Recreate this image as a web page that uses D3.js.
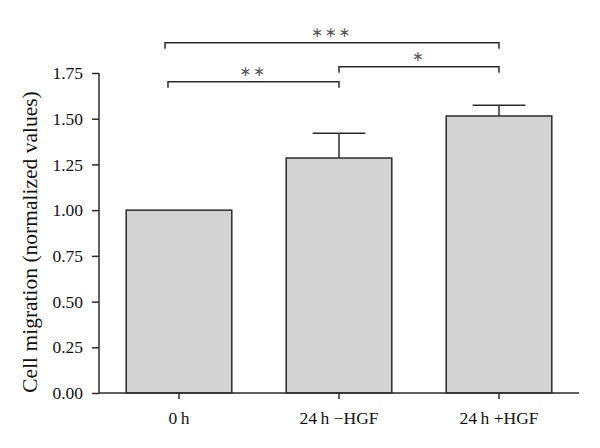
<!DOCTYPE html>
<html><head><meta charset="utf-8">
<script src="https://cdn.jsdelivr.net/npm/d3@7"></script>
<style>body{margin:0;background:#fff}</style>
</head><body>
<svg id="c" width="600" height="448"></svg>
<script>
const categories = ["0\u2009h", "24\u2009h \u2212HGF", "24\u2009h +HGF"];
const values = [1.0, 1.285, 1.515];
const errors = [0.0, 0.135, 0.058];
const yTicks = [0, 0.25, 0.5, 0.75, 1.0, 1.25, 1.5, 1.75];
const brackets = [
  {from: 0, to: 2, level: 1.915, label: "\u2217\u2217\u2217"},
  {from: 1, to: 2, level: 1.784, label: "\u2217"},
  {from: 0, to: 1, level: 1.702, label: "\u2217\u2217"}
];
const yLabel = "Cell migration (normalized values)";

const svg = d3.select("#c");
const font = "'Liberation Serif','DejaVu Serif',serif";
const mLeft = 99, mRight = 579, mTop = 73, mBottom = 393;

const x = d3.scaleBand().domain(categories).range([mLeft, mRight]).paddingInner(0.34).paddingOuter(0.17);
const y = d3.scaleLinear().domain([0, 1.75]).range([mBottom, mTop]);

// bars
svg.selectAll("rect.bar").data(values).enter().append("rect")
  .attr("x", (d,i) => x(categories[i]))
  .attr("y", d => y(d))
  .attr("width", x.bandwidth())
  .attr("height", d => mBottom - y(d))
  .attr("fill", "#d3d3d3").attr("stroke", "#2b2b2b").attr("stroke-width", 1.5);

// error bars
values.forEach((v, i) => {
  if (errors[i] <= 0) return;
  const cx = x(categories[i]) + x.bandwidth()/2;
  const hw = x.bandwidth()/4;
  svg.append("line").attr("x1", cx).attr("x2", cx).attr("y1", y(v)).attr("y2", y(v+errors[i]))
    .attr("stroke", "#2b2b2b").attr("stroke-width", 1.5);
  svg.append("line").attr("x1", cx-hw).attr("x2", cx+hw).attr("y1", y(v+errors[i])).attr("y2", y(v+errors[i]))
    .attr("stroke", "#2b2b2b").attr("stroke-width", 1.5);
});

// y axis
const ya = svg.append("g").attr("transform", `translate(${mLeft},0)`)
  .call(d3.axisLeft(y).tickValues(yTicks).tickFormat(d3.format(".2f")).tickSize(7).tickPadding(9));
ya.select(".domain").attr("d", `M-0,${mTop}H0V${mBottom}`);
// x axis
const xa = svg.append("g").attr("transform", `translate(0,${mBottom})`)
  .call(d3.axisBottom(x).tickSize(6).tickPadding(8));
xa.select(".domain").attr("d", `M${mLeft},0H${mRight}`);
[ya, xa].forEach(g => {
  g.selectAll(".domain, .tick line").attr("stroke", "#2b2b2b").attr("stroke-width", 1.5);
  g.selectAll("text").attr("font-family", font).attr("font-size", 17.5).attr("fill", "#111");
});
xa.selectAll("text").attr("dy", "0.95em");

// y label
svg.append("text").attr("transform", `translate(37,242) rotate(-90)`)
  .attr("text-anchor", "middle").attr("font-family", font).attr("font-size", 21.5).attr("fill", "#111")
  .text(yLabel);

// brackets
brackets.forEach(b => {
  const x1 = x(categories[b.from]) + x.bandwidth()/2 - (b.from === 0 ? 14 : 0);
  const x2 = x(categories[b.to]) + x.bandwidth()/2;
  const yy = y(b.level);
  const xs = b.from === 0 && b.to === 1 ? x1 + 3 : x1;
  svg.append("path").attr("d", `M${xs},${yy+6}V${yy}H${x2}V${yy+6}`)
    .attr("fill", "none").attr("stroke", "#2b2b2b").attr("stroke-width", 1.5);
  svg.append("text").attr("x", (xs+x2)/2).attr("y", yy-6)
    .attr("text-anchor", "middle").attr("font-family", "'DejaVu Sans',sans-serif").attr("font-size", 14)
    .attr("letter-spacing", 2).attr("fill", "#555").text(b.label);
});
</script>
</body></html>
